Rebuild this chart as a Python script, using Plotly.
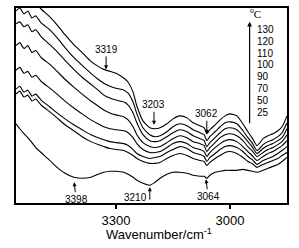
import plotly.graph_objects as go

# Wavenumber grid (cm-1)
wavenumber = [3563, 3553, 3542, 3532, 3521, 3511, 3497, 3474, 3455, 3434, 3411, 3389, 3366, 3347,
              3332, 3316, 3300, 3279, 3268, 3255, 3245, 3229, 3211, 3197, 3184, 3166, 3150, 3132,
              3113, 3097, 3079, 3068, 3061, 3053, 3039, 3026, 3013, 3000, 2982, 2966, 2953, 2942,
              2929, 2913, 2900, 2887, 2874, 2863, 2850]

temps = ["130", "120", "110", "100", "90", "70", "50", "25"]

# Absorbance (a.u., stacked) for each temperature
abs_130 = [2.21, 2.19, 2.13, 2.11, 2.05, 2.02, 1.96, 1.88, 1.80, 1.70, 1.60, 1.52, 1.43, 1.38, 1.35, 1.33, 1.31,
           1.26, 1.22, 1.12, 0.98, 0.83, 0.76, 0.75, 0.76, 0.80, 0.85, 0.88, 0.86, 0.81, 0.78, 0.76, 0.70, 0.74,
           0.79, 0.84, 0.88, 0.90, 0.88, 0.80, 0.72, 0.66, 0.58, 0.65, 0.68, 0.70, 0.73, 0.77, 0.88]
abs_120 = [1.94, 1.97, 1.91, 1.94, 1.87, 1.89, 1.82, 1.75, 1.67, 1.57, 1.47, 1.39, 1.31, 1.25, 1.21, 1.18, 1.16,
           1.14, 1.11, 1.02, 0.90, 0.76, 0.69, 0.67, 0.68, 0.72, 0.77, 0.80, 0.78, 0.74, 0.71, 0.69, 0.63, 0.67,
           0.72, 0.77, 0.81, 0.82, 0.80, 0.73, 0.66, 0.61, 0.53, 0.59, 0.62, 0.64, 0.67, 0.71, 0.81]
abs_110 = [1.81, 1.83, 1.78, 1.80, 1.73, 1.75, 1.68, 1.60, 1.53, 1.44, 1.35, 1.27, 1.20, 1.14, 1.09, 1.06, 1.04,
           1.02, 0.99, 0.91, 0.81, 0.69, 0.63, 0.62, 0.63, 0.67, 0.71, 0.74, 0.72, 0.68, 0.65, 0.63, 0.57, 0.61,
           0.66, 0.71, 0.75, 0.76, 0.74, 0.68, 0.62, 0.57, 0.50, 0.55, 0.58, 0.60, 0.63, 0.66, 0.75]
abs_100 = [1.59, 1.62, 1.56, 1.59, 1.52, 1.54, 1.47, 1.40, 1.33, 1.25, 1.17, 1.10, 1.03, 0.98, 0.94, 0.91, 0.89,
           0.87, 0.84, 0.77, 0.69, 0.61, 0.57, 0.56, 0.57, 0.61, 0.65, 0.68, 0.66, 0.62, 0.60, 0.58, 0.52, 0.56,
           0.61, 0.66, 0.69, 0.70, 0.68, 0.63, 0.57, 0.53, 0.47, 0.51, 0.54, 0.56, 0.59, 0.62, 0.69]
abs_90 = [1.34, 1.37, 1.31, 1.33, 1.27, 1.29, 1.23, 1.16, 1.10, 1.03, 0.96, 0.90, 0.84, 0.80, 0.77, 0.75, 0.74,
          0.73, 0.71, 0.66, 0.60, 0.54, 0.51, 0.51, 0.52, 0.56, 0.60, 0.62, 0.60, 0.56, 0.54, 0.52, 0.47, 0.51,
          0.56, 0.60, 0.63, 0.64, 0.62, 0.57, 0.52, 0.48, 0.43, 0.47, 0.50, 0.52, 0.55, 0.58, 0.63]
abs_70 = [1.15, 1.18, 1.12, 1.14, 1.08, 1.10, 1.04, 0.97, 0.91, 0.85, 0.79, 0.74, 0.69, 0.66, 0.64, 0.62, 0.61,
          0.60, 0.58, 0.54, 0.50, 0.47, 0.45, 0.46, 0.47, 0.51, 0.54, 0.57, 0.55, 0.51, 0.49, 0.47, 0.42, 0.46,
          0.50, 0.54, 0.57, 0.58, 0.56, 0.52, 0.47, 0.44, 0.39, 0.43, 0.45, 0.47, 0.50, 0.53, 0.57]
abs_50 = [1.10, 1.13, 1.07, 1.09, 1.03, 1.05, 0.99, 0.92, 0.86, 0.79, 0.73, 0.67, 0.62, 0.59, 0.57, 0.55, 0.54,
          0.53, 0.51, 0.48, 0.45, 0.42, 0.40, 0.40, 0.41, 0.45, 0.48, 0.50, 0.48, 0.45, 0.43, 0.42, 0.38, 0.41,
          0.45, 0.48, 0.51, 0.52, 0.50, 0.46, 0.42, 0.40, 0.36, 0.39, 0.41, 0.43, 0.45, 0.48, 0.51]
abs_25 = [0.80, 0.75, 0.70, 0.66, 0.61, 0.56, 0.51, 0.43, 0.36, 0.30, 0.26, 0.25, 0.26, 0.29, 0.31, 0.32, 0.32,
          0.31, 0.29, 0.26, 0.23, 0.20, 0.18, 0.21, 0.25, 0.29, 0.31, 0.31, 0.30, 0.28, 0.27, 0.27, 0.25, 0.28,
          0.31, 0.32, 0.33, 0.33, 0.33, 0.34, 0.33, 0.32, 0.31, 0.33, 0.35, 0.37, 0.39, 0.42, 0.46]

series = [abs_130, abs_120, abs_110, abs_100, abs_90, abs_70, abs_50, abs_25]

x_ticks = [3300, 3000]

# Peak annotations: (label, wavenumber, absorbance at arrow tip)
peaks_up = [("3319", 3326, 1.35), ("3203", 3200, 0.79), ("3062", 3061, 0.70)]
peaks_down = [("3398", 3410, 0.21), ("3064", 3063, 0.24)]

FONT = "Liberation Sans, Arial, sans-serif"

fig = go.Figure()
for name, ys in zip(temps, series):
    fig.add_trace(go.Scatter(x=wavenumber, y=ys, mode="lines", name=name,
                             line=dict(color="black", width=1.1, shape="spline", smoothing=0.6),
                             showlegend=False, hoverinfo="skip"))

ann = []
for label, wn, a in peaks_up:
    ann.append(dict(x=wn, y=a, xref="x", yref="y", text=label, showarrow=True,
                    ax=0, ay=-20, arrowhead=2, arrowsize=0.8, arrowwidth=1, arrowcolor="black",
                    font=dict(family=FONT, size=10, color="black")))
for label, wn, a in peaks_down:
    ann.append(dict(x=wn, y=a, xref="x", yref="y", text=label, showarrow=True,
                    ax=2, ay=17, arrowhead=2, arrowsize=0.8, arrowwidth=1, arrowcolor="black",
                    font=dict(family=FONT, size=10, color="black")))
# 3210: label left of arrow
ann.append(dict(x=3211, y=0.16, xref="x", yref="y", text="", showarrow=True,
                ax=0, ay=14, arrowhead=2, arrowsize=0.8, arrowwidth=1, arrowcolor="black"))
ann.append(dict(x=3248, y=0.06, xref="x", yref="y", text="3210", showarrow=False,
                font=dict(family=FONT, size=10, color="black")))

# temperature column
for i, t in enumerate(temps):
    ann.append(dict(x=0.882, y=0.89 - i * 0.0607, xref="paper", yref="paper", text=t,
                    showarrow=False, xanchor="left", yanchor="middle",
                    font=dict(family=FONT, size=10, color="black")))
ann.append(dict(x=0.862, y=0.93, xref="paper", yref="paper", text="", showarrow=True,
                ax=0, ay=103, arrowhead=2, arrowsize=0.8, arrowwidth=1.2, arrowcolor="black"))
ann.append(dict(x=0.912, y=0.972, xref="paper", yref="paper", text="<sup>o</sup>C",
                showarrow=False, yanchor="middle",
                font=dict(family="Liberation Serif, Times New Roman, serif", size=11, color="black")))
# axis title
ann.append(dict(x=0.528, y=-0.16, xref="paper", yref="paper", text="Wavenumber/cm<sup>-1</sup>",
                showarrow=False, yanchor="middle",
                font=dict(family=FONT, size=13, color="black")))

fig.update_layout(
    width=299, height=248,
    margin=dict(l=16, r=12, t=6, b=45),
    paper_bgcolor="white", plot_bgcolor="white",
    annotations=ann,
    xaxis=dict(range=[3563, 2850], tickvals=x_ticks, ticktext=[str(v) for v in x_ticks],
               ticks="outside", ticklen=4, tickwidth=1.5, tickcolor="black",
               showline=True, linecolor="black", linewidth=2, mirror=True,
               showgrid=False, zeroline=False,
               tickfont=dict(family=FONT, size=13, color="black")),
    yaxis=dict(range=[0, 1.97], showticklabels=False, ticks="",
               showline=True, linecolor="black", linewidth=2, mirror=True,
               showgrid=False, zeroline=False),
)

fig.write_html("out.html", config={"displayModeBar": False},
               post_script="document.body.style.margin='0';document.body.style.overflow='hidden';")
